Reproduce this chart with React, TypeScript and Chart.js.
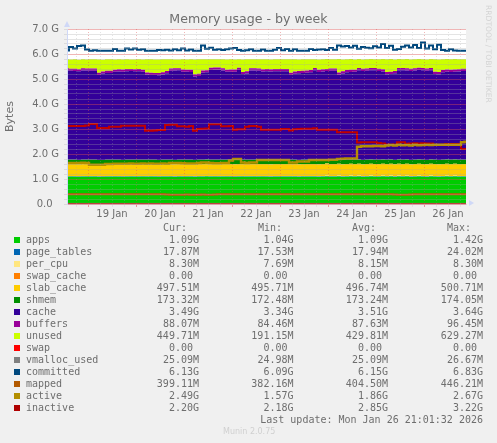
import React, { useEffect, useRef } from "react";
import { Chart, registerables } from "chart.js";

Chart.register(...registerables);

const hours = [
  -10.5, -8.5, -6.5, -4.5, -2.5, -0.5, 1.5, 3.5, 5.5, 7.5,
  9.5, 11.5, 13.5, 15.5, 17.5, 19.5, 21.5, 23.5, 25.5, 27.5,
  29.5, 31.5, 33.5, 35.5, 37.5, 39.5, 41.5, 43.5, 45.5, 47.5,
  49.5, 51.5, 53.5, 55.5, 57.5, 59.5, 61.5, 63.5, 65.5, 67.5,
  69.5, 71.5, 73.5, 75.5, 77.5, 79.5, 81.5, 83.5, 85.5, 87.5,
  89.5, 91.5, 93.5, 95.5, 97.5, 99.5, 101.5, 103.5, 105.5, 107.5,
  109.5, 111.5, 113.5, 115.5, 117.5, 119.5, 121.5, 123.5, 125.5, 127.5,
  129.5, 131.5, 133.5, 135.5, 137.5, 139.5, 141.5, 143.5, 145.5, 147.5,
  149.5, 151.5, 153.5, 155.5, 157.5, 159.5, 161.5, 163.5, 165.5, 167.5,
  169.5, 171.5, 173.5, 175.5, 177.5, 179.5, 181.5, 183.5, 185.5, 187.5, 189,
];

const apps = [
  1.09, 1.09, 1.09, 1.08, 1.09, 1.09, 1.09, 1.09, 1.08, 1.08,
  1.09, 1.09, 1.09, 1.09, 1.08, 1.09, 1.09, 1.09, 1.09, 1.09,
  1.09, 1.09, 1.09, 1.08, 1.09, 1.09, 1.09, 1.08, 1.09, 1.09,
  1.09, 1.09, 1.08, 1.09, 1.09, 1.10, 1.09, 1.09, 1.09, 1.09,
  1.09, 1.09, 1.08, 1.09, 1.09, 1.09, 1.09, 1.09, 1.09, 1.09,
  1.09, 1.08, 1.09, 1.09, 1.09, 1.09, 1.09, 1.09, 1.08, 1.09,
  1.09, 1.09, 1.09, 1.08, 1.09, 1.10, 1.09, 1.09, 1.10, 1.08,
  1.09, 1.10, 1.09, 1.10, 1.08, 1.09, 1.10, 1.09, 1.09, 1.10,
  1.09, 1.10, 1.08, 1.10, 1.09, 1.10, 1.08, 1.09, 1.10, 1.09,
  1.08, 1.10, 1.09, 1.08, 1.09, 1.10, 1.09, 1.10, 1.09, 1.09, 1.09,
];
const pageTables = [
  0.018, 0.017, 0.018, 0.017, 0.018, 0.017, 0.018, 0.017, 0.018, 0.017,
  0.018, 0.018, 0.017, 0.018, 0.017, 0.018, 0.017, 0.018, 0.018, 0.017,
  0.018, 0.017, 0.018, 0.017, 0.018, 0.018, 0.017, 0.018, 0.017, 0.018,
  0.017, 0.018, 0.018, 0.017, 0.018, 0.017, 0.018, 0.017, 0.018, 0.018,
  0.017, 0.018, 0.017, 0.018, 0.017, 0.018, 0.018, 0.017, 0.018, 0.017,
  0.018, 0.017, 0.018, 0.018, 0.017, 0.018, 0.017, 0.018, 0.017, 0.018,
  0.018, 0.017, 0.018, 0.017, 0.018, 0.023, 0.018, 0.018, 0.017, 0.018,
  0.017, 0.018, 0.017, 0.018, 0.018, 0.017, 0.018, 0.017, 0.018, 0.017,
  0.018, 0.018, 0.017, 0.018, 0.017, 0.018, 0.017, 0.018, 0.018, 0.017,
  0.018, 0.017, 0.018, 0.017, 0.018, 0.018, 0.017, 0.018, 0.017, 0.018, 0.017,
];
const perCpu = [
  0.0075, 0.0075, 0.0075, 0.0075, 0.0075, 0.0075, 0.0075, 0.0075, 0.0075, 0.0075,
  0.0075, 0.0075, 0.0075, 0.0075, 0.0075, 0.0075, 0.0075, 0.0075, 0.0075, 0.0075,
  0.0079, 0.0079, 0.0079, 0.0079, 0.0079, 0.0079, 0.0079, 0.0079, 0.0079, 0.0079,
  0.0079, 0.0079, 0.0079, 0.0079, 0.0079, 0.0079, 0.0079, 0.0079, 0.0079, 0.0079,
  0.0079, 0.0079, 0.0079, 0.0079, 0.0079, 0.0079, 0.0079, 0.0079, 0.0079, 0.0079,
  0.0081, 0.0081, 0.0081, 0.0081, 0.0081, 0.0081, 0.0081, 0.0081, 0.0081, 0.0081,
  0.0081, 0.0081, 0.0081, 0.0081, 0.0081, 0.0081, 0.0081, 0.0081, 0.0081, 0.0081,
  0.0081, 0.0081, 0.0081, 0.0081, 0.0081, 0.0081, 0.0081, 0.0081, 0.0081, 0.0081,
  0.0081, 0.0081, 0.0081, 0.0081, 0.0081, 0.0081, 0.0081, 0.0081, 0.0081, 0.0081,
  0.0081, 0.0081, 0.0081, 0.0081, 0.0081, 0.0081, 0.0081, 0.0081, 0.0081, 0.0081, 0.0081,
];
const swapCache = [
  0, 0, 0, 0, 0, 0, 0, 0, 0, 0, 0, 0, 0, 0, 0, 0, 0, 0, 0, 0,
  0, 0, 0, 0, 0, 0, 0, 0, 0, 0, 0, 0, 0, 0, 0, 0, 0, 0, 0, 0,
  0, 0, 0, 0, 0, 0, 0, 0, 0, 0, 0, 0, 0, 0, 0, 0, 0, 0, 0, 0,
  0, 0, 0, 0, 0, 0, 0, 0, 0, 0, 0, 0, 0, 0, 0, 0, 0, 0, 0, 0,
  0, 0, 0, 0, 0, 0, 0, 0, 0, 0, 0, 0, 0, 0, 0, 0, 0, 0, 0, 0, 0,
];
const slabCache = [
  0.485, 0.485, 0.486, 0.485, 0.486, 0.485, 0.485, 0.486, 0.485, 0.485,
  0.486, 0.485, 0.485, 0.486, 0.485, 0.486, 0.485, 0.485, 0.486, 0.485,
  0.485, 0.486, 0.485, 0.486, 0.485, 0.485, 0.486, 0.485, 0.486, 0.485,
  0.485, 0.486, 0.485, 0.486, 0.485, 0.485, 0.486, 0.485, 0.485, 0.486,
  0.485, 0.486, 0.485, 0.485, 0.486, 0.485, 0.486, 0.485, 0.485, 0.486,
  0.485, 0.485, 0.486, 0.485, 0.486, 0.485, 0.485, 0.486, 0.485, 0.486,
  0.485, 0.485, 0.486, 0.485, 0.486, 0.487, 0.485, 0.486, 0.487, 0.485,
  0.486, 0.488, 0.485, 0.487, 0.486, 0.485, 0.488, 0.486, 0.487, 0.485,
  0.488, 0.486, 0.485, 0.487, 0.488, 0.486, 0.487, 0.485, 0.488, 0.486,
  0.487, 0.485, 0.486, 0.488, 0.485, 0.487, 0.486, 0.488, 0.486, 0.486, 0.486,
];
const shmem = [
  0.169, 0.169, 0.170, 0.169, 0.169, 0.169, 0.170, 0.169, 0.169, 0.169,
  0.169, 0.170, 0.169, 0.169, 0.169, 0.170, 0.169, 0.169, 0.169, 0.169,
  0.170, 0.169, 0.169, 0.169, 0.170, 0.169, 0.169, 0.169, 0.169, 0.170,
  0.169, 0.169, 0.169, 0.170, 0.169, 0.169, 0.169, 0.169, 0.170, 0.169,
  0.169, 0.169, 0.170, 0.169, 0.169, 0.169, 0.169, 0.170, 0.169, 0.169,
  0.169, 0.170, 0.169, 0.169, 0.169, 0.169, 0.170, 0.169, 0.169, 0.169,
  0.169, 0.170, 0.169, 0.169, 0.169, 0.170, 0.169, 0.169, 0.169, 0.169,
  0.170, 0.169, 0.169, 0.169, 0.170, 0.169, 0.169, 0.169, 0.170, 0.169,
  0.169, 0.169, 0.170, 0.169, 0.169, 0.169, 0.170, 0.169, 0.169, 0.169,
  0.170, 0.169, 0.169, 0.169, 0.170, 0.169, 0.169, 0.169, 0.169, 0.169, 0.169,
];
const cache = [
  3.57, 3.56, 3.55, 3.55, 3.57, 3.57, 3.56, 3.56, 3.40, 3.46,
  3.47, 3.47, 3.52, 3.53, 3.53, 3.54, 3.55, 3.54, 3.54, 3.52,
  3.40, 3.39, 3.39, 3.39, 3.41, 3.46, 3.56, 3.58, 3.58, 3.52,
  3.52, 3.51, 3.34, 3.35, 3.48, 3.49, 3.59, 3.60, 3.60, 3.57,
  3.52, 3.52, 3.53, 3.59, 3.43, 3.45, 3.57, 3.57, 3.56, 3.53,
  3.54, 3.54, 3.54, 3.54, 3.54, 3.54, 3.39, 3.44, 3.47, 3.47,
  3.48, 3.50, 3.58, 3.52, 3.53, 3.53, 3.56, 3.56, 3.39, 3.46,
  3.50, 3.50, 3.52, 3.57, 3.56, 3.56, 3.57, 3.58, 3.55, 3.52,
  3.42, 3.42, 3.47, 3.57, 3.58, 3.56, 3.56, 3.57, 3.58, 3.58,
  3.57, 3.57, 3.43, 3.43, 3.50, 3.51, 3.51, 3.51, 3.53, 3.55, 3.55,
];
const buffers = [
  0.086, 0.086, 0.087, 0.086, 0.085, 0.086, 0.086, 0.087, 0.086, 0.085,
  0.086, 0.086, 0.085, 0.086, 0.087, 0.086, 0.086, 0.085, 0.086, 0.086,
  0.087, 0.086, 0.085, 0.086, 0.086, 0.087, 0.086, 0.086, 0.085, 0.086,
  0.086, 0.087, 0.086, 0.085, 0.086, 0.086, 0.086, 0.087, 0.086, 0.085,
  0.086, 0.086, 0.087, 0.086, 0.085, 0.086, 0.086, 0.086, 0.087, 0.086,
  0.085, 0.086, 0.086, 0.087, 0.086, 0.086, 0.085, 0.086, 0.087, 0.086,
  0.086, 0.085, 0.086, 0.086, 0.087, 0.086, 0.086, 0.085, 0.086, 0.086,
  0.087, 0.086, 0.085, 0.086, 0.086, 0.087, 0.086, 0.086, 0.085, 0.086,
  0.086, 0.087, 0.086, 0.085, 0.086, 0.086, 0.087, 0.086, 0.086, 0.085,
  0.086, 0.086, 0.087, 0.086, 0.085, 0.086, 0.086, 0.087, 0.086, 0.086, 0.086,
];
const unused = [
  0.36, 0.37, 0.38, 0.38, 0.36, 0.36, 0.37, 0.37, 0.53, 0.47,
  0.46, 0.46, 0.41, 0.40, 0.40, 0.39, 0.38, 0.39, 0.39, 0.41,
  0.53, 0.54, 0.54, 0.54, 0.52, 0.47, 0.37, 0.35, 0.35, 0.41,
  0.41, 0.42, 0.59, 0.58, 0.45, 0.44, 0.34, 0.33, 0.33, 0.36,
  0.41, 0.41, 0.40, 0.34, 0.50, 0.48, 0.36, 0.36, 0.37, 0.40,
  0.39, 0.39, 0.39, 0.39, 0.39, 0.39, 0.54, 0.49, 0.46, 0.46,
  0.45, 0.43, 0.35, 0.41, 0.40, 0.40, 0.37, 0.37, 0.54, 0.47,
  0.43, 0.43, 0.41, 0.36, 0.37, 0.37, 0.36, 0.35, 0.38, 0.41,
  0.51, 0.51, 0.46, 0.36, 0.35, 0.37, 0.37, 0.36, 0.35, 0.35,
  0.36, 0.36, 0.50, 0.50, 0.43, 0.42, 0.42, 0.42, 0.40, 0.38, 0.38,
];
const swap = swapCache;
const vmallocUsed = [
  0.0245, 0.0245, 0.0245, 0.0245, 0.0245, 0.0245, 0.0245, 0.0245, 0.0245, 0.0245,
  0.0245, 0.0245, 0.0245, 0.0245, 0.0245, 0.0245, 0.0245, 0.0245, 0.0245, 0.0245,
  0.0245, 0.0245, 0.0245, 0.0245, 0.0245, 0.0245, 0.0245, 0.0245, 0.0245, 0.0245,
  0.0245, 0.0245, 0.0245, 0.0245, 0.0245, 0.0245, 0.0245, 0.0245, 0.0245, 0.0245,
  0.0245, 0.0245, 0.0245, 0.0245, 0.0245, 0.0245, 0.0245, 0.0245, 0.0245, 0.0245,
  0.0245, 0.0245, 0.0245, 0.0245, 0.0245, 0.0245, 0.0245, 0.0245, 0.0245, 0.0245,
  0.0245, 0.0245, 0.0245, 0.0245, 0.0245, 0.0245, 0.0245, 0.0245, 0.0245, 0.0245,
  0.0245, 0.0245, 0.0245, 0.0245, 0.0245, 0.0245, 0.0245, 0.0245, 0.0245, 0.0245,
  0.0245, 0.0245, 0.0245, 0.0245, 0.0245, 0.0245, 0.0245, 0.0245, 0.0245, 0.0245,
  0.0245, 0.0245, 0.0245, 0.0245, 0.0245, 0.0245, 0.0245, 0.0245, 0.0245, 0.0245, 0.0245,
];
const committed = [
  6.14, 6.28, 6.22, 6.32, 6.34, 6.18, 6.13, 6.15, 6.13, 6.13,
  6.13, 6.13, 6.20, 6.13, 6.13, 6.22, 6.18, 6.22, 6.17, 6.19,
  6.13, 6.13, 6.13, 6.16, 6.15, 6.17, 6.14, 6.19, 6.15, 6.22,
  6.14, 6.18, 6.13, 6.13, 6.34, 6.21, 6.25, 6.17, 6.19, 6.16,
  6.19, 6.22, 6.24, 6.16, 6.13, 6.15, 6.19, 6.13, 6.13, 6.18,
  6.13, 6.13, 6.17, 6.24, 6.15, 6.20, 6.13, 6.19, 6.13, 6.13,
  6.13, 6.20, 6.16, 6.18, 6.19, 6.16, 6.24, 6.17, 6.34, 6.30,
  6.32, 6.26, 6.33, 6.21, 6.28, 6.25, 6.23, 6.31, 6.26, 6.40,
  6.24, 6.33, 6.17, 6.20, 6.29, 6.34, 6.26, 6.36, 6.24, 6.46,
  6.22, 6.34, 6.19, 6.37, 6.16, 6.13, 6.19, 6.14, 6.13, 6.13, 6.13,
];
const mapped = [
  0.39, 0.39, 0.39, 0.39, 0.39, 0.39, 0.39, 0.39, 0.39, 0.39,
  0.39, 0.39, 0.39, 0.39, 0.39, 0.39, 0.39, 0.39, 0.39, 0.39,
  0.39, 0.39, 0.39, 0.39, 0.39, 0.38, 0.37, 0.37, 0.37, 0.37,
  0.38, 0.37, 0.37, 0.37, 0.38, 0.37, 0.37, 0.38, 0.39, 0.39,
  0.39, 0.39, 0.39, 0.39, 0.39, 0.39, 0.39, 0.39, 0.39, 0.39,
  0.39, 0.39, 0.39, 0.39, 0.39, 0.39, 0.39, 0.39, 0.39, 0.39,
  0.39, 0.39, 0.39, 0.39, 0.39, 0.39, 0.39, 0.39, 0.39, 0.39,
  0.39, 0.39, 0.39, 0.39, 0.39, 0.39, 0.39, 0.39, 0.39, 0.39,
  0.39, 0.39, 0.38, 0.37, 0.37, 0.37, 0.38, 0.39, 0.39, 0.39,
  0.39, 0.39, 0.39, 0.39, 0.39, 0.39, 0.39, 0.39, 0.39, 0.39, 0.39,
];
const active = [
  1.64, 1.64, 1.64, 1.64, 1.65, 1.64, 1.57, 1.57, 1.57, 1.57,
  1.60, 1.60, 1.61, 1.61, 1.61, 1.61, 1.62, 1.61, 1.61, 1.62,
  1.61, 1.62, 1.61, 1.61, 1.62, 1.61, 1.64, 1.64, 1.64, 1.63,
  1.62, 1.62, 1.62, 1.64, 1.66, 1.66, 1.64, 1.63, 1.63, 1.64,
  1.64, 1.74, 1.80, 1.80, 1.66, 1.64, 1.66, 1.66, 1.76, 1.76,
  1.76, 1.76, 1.76, 1.76, 1.76, 1.76, 1.66, 1.66, 1.70, 1.70,
  1.70, 1.76, 1.76, 1.76, 1.76, 1.76, 1.77, 1.77, 1.80, 1.81,
  1.82, 1.82, 1.82, 2.29, 2.31, 2.31, 2.31, 2.32, 2.32, 2.31,
  2.34, 2.36, 2.34, 2.37, 2.35, 2.36, 2.34, 2.37, 2.35, 2.36,
  2.37, 2.36, 2.37, 2.37, 2.37, 2.37, 2.37, 2.37, 2.37, 2.47, 2.49,
];
const inactive = [
  3.12, 3.12, 3.12, 3.12, 3.12, 3.14, 3.20, 3.20, 3.04, 3.04,
  3.04, 3.09, 3.09, 3.09, 3.13, 3.13, 3.13, 3.13, 3.13, 3.13,
  2.93, 2.93, 2.94, 2.96, 2.96, 3.16, 3.17, 3.17, 3.11, 3.11,
  3.09, 3.12, 2.93, 3.00, 3.01, 3.02, 3.19, 3.19, 3.19, 3.11,
  3.11, 3.12, 2.97, 2.99, 2.99, 3.09, 3.12, 3.12, 3.09, 2.97,
  2.97, 2.97, 2.97, 2.97, 3.00, 3.00, 2.94, 2.99, 3.00, 3.01,
  3.01, 3.01, 3.03, 2.97, 2.97, 2.97, 2.97, 2.97, 2.87, 2.87,
  2.87, 2.87, 2.87, 2.46, 2.47, 2.47, 2.47, 2.47, 2.44, 2.42,
  2.38, 2.37, 2.38, 2.47, 2.47, 2.41, 2.42, 2.43, 2.42, 2.43,
  2.42, 2.42, 2.37, 2.36, 2.37, 2.40, 2.40, 2.40, 2.40, 2.20, 2.20,
];

const xGridHours = [
  -6, 0, 6, 12, 18, 24, 30, 36, 42, 48, 54, 60, 66, 72, 78, 84, 90, 96, 102, 108, 114,
  120, 126, 132, 138, 144, 150, 156, 162, 168, 174, 180, 186,
];
const dayLabels = ["19 Jan", "20 Jan", "21 Jan", "22 Jan", "23 Jan", "24 Jan", "25 Jan", "26 Jan"];
const yLabels = ["0.0  ", "1.0 G", "2.0 G", "3.0 G", "4.0 G", "5.0 G", "6.0 G", "7.0 G"];

const legendNames = [
  "apps", "page_tables", "per_cpu", "swap_cache", "slab_cache", "shmem", "cache", "buffers",
  "unused", "swap", "vmalloc_used", "committed", "mapped", "active", "inactive",
];
const legendColors = [
  "#00CC00", "#0066B3", "#FFE680", "#FF8000", "#FFCC00", "#008F00", "#330099", "#990099",
  "#CCFF00", "#FF0000", "#808080", "#00487D", "#B35A00", "#B38F00", "#AF0000",
];
const lineColors = { mapped: "#C8500C", active: "#B38F00", inactive: "#C00000" };
const curValues = ["1.09G", "17.87M", "8.30M", "0.00 ", "497.51M", "173.32M", "3.49G", "88.07M", "449.71M", "0.00 ", "25.09M", "6.13G", "399.11M", "2.49G", "2.20G"];
const minValues = ["1.04G", "17.53M", "7.69M", "0.00 ", "495.71M", "172.48M", "3.34G", "84.46M", "191.15M", "0.00 ", "24.98M", "6.09G", "382.16M", "1.57G", "2.18G"];
const avgValues = ["1.09G", "17.94M", "8.15M", "0.00 ", "496.74M", "173.24M", "3.51G", "87.63M", "429.81M", "0.00 ", "25.09M", "6.15G", "404.50M", "1.86G", "2.85G"];
const maxValues = ["1.42G", "24.02M", "8.30M", "0.00 ", "500.71M", "174.05M", "3.64G", "96.45M", "629.27M", "0.00 ", "26.67M", "6.83G", "446.21M", "2.67G", "3.22G"];

const toPoints = (ys: number[]) => ys.map((y, i) => ({ x: hours[i], y }));

const MONO = '"DejaVu Sans Mono", monospace';
const SANS = '"DejaVu Sans", sans-serif';
const TEXT = "#6e6e6e";
const GRID_MINOR = "rgba(165,165,165,0.3)";
const GRID_MAJOR = "rgba(220,80,80,0.42)";

const area = (label: string, ys: number[], color: string, first = false) => ({
  type: "line" as const,
  label,
  data: toPoints(ys),
  stack: "mem",
  fill: first ? "origin" : "-1",
  backgroundColor: color,
  borderColor: color,
  borderWidth: 0,
  pointRadius: 0,
  stepped: "middle",
  order: 10,
});

const line = (label: string, ys: number[], color: string, width = 2) => ({
  type: "line" as const,
  label,
  data: toPoints(ys),
  stack: label,
  fill: false,
  borderColor: color,
  backgroundColor: color,
  borderWidth: width,
  pointRadius: 0,
  stepped: "middle",
  order: 1,
});

const chromePlugin = {
  id: "chrome",
  beforeDraw(chart: any) {
    const { ctx, chartArea: a } = chart;
    ctx.save();
    ctx.fillStyle = "#ffffff";
    ctx.fillRect(a.left, a.top, a.right - a.left, a.bottom - a.top);
    ctx.restore();
  },
  afterDraw(chart: any) {
    const { ctx, chartArea: a } = chart;
    ctx.save();
    ctx.fillStyle = "#cfd8f7";
    ctx.beginPath();
    ctx.moveTo(a.left - 3, a.top - 2);
    ctx.lineTo(a.left, a.top - 8);
    ctx.lineTo(a.left + 3, a.top - 2);
    ctx.closePath();
    ctx.fill();
    ctx.beginPath();
    ctx.moveTo(a.right + 3, a.bottom - 4);
    ctx.lineTo(a.right + 8, a.bottom - 1);
    ctx.lineTo(a.right + 3, a.bottom + 2);
    ctx.closePath();
    ctx.fill();
    ctx.restore();
  },
};

const abs = (left: number, top: number): React.CSSProperties => ({
  position: "absolute",
  left,
  top,
  whiteSpace: "pre",
});

const valueCol = (right: number, cy: number, text: string, key: string) => (
  <div
    key={key}
    style={{
      position: "absolute",
      right: 497 - right,
      top: cy - 6,
      height: 12,
      lineHeight: "12px",
      whiteSpace: "pre",
    }}
  >
    {text}
  </div>
);

export default function App() {
  const ref = useRef<HTMLCanvasElement | null>(null);

  useEffect(() => {
    const chart = new Chart(ref.current as HTMLCanvasElement, {
      type: "line",
      data: {
        datasets: [
          area("apps", apps, legendColors[0], true),
          area("page_tables", pageTables, legendColors[1]),
          area("per_cpu", perCpu, legendColors[2]),
          area("swap_cache", swapCache, legendColors[3]),
          area("slab_cache", slabCache, legendColors[4]),
          area("shmem", shmem, legendColors[5]),
          area("cache", cache, legendColors[6]),
          area("buffers", buffers, legendColors[7]),
          area("unused", unused, legendColors[8]),
          line("swap", swap, legendColors[9], 1),
          line("vmalloc_used", vmallocUsed, legendColors[10], 1),
          line("committed", committed, legendColors[11], 2),
          line("mapped", mapped, lineColors.mapped),
          line("active", active, lineColors.active, 2.4),
          line("inactive", inactive, lineColors.inactive),
        ] as any,
      },
      options: {
        responsive: false,
        animation: false,
        devicePixelRatio: 1,
        layout: { padding: { left: 0, right: 0, top: 0, bottom: 0 } },
        plugins: {
          legend: { display: false },
          tooltip: { enabled: false },
          title: {
            display: true,
            text: "Memory usage - by week",
            color: TEXT,
            font: { family: SANS, size: 12.6, weight: "normal", lineHeight: 1.2 },
            padding: { top: 12, bottom: 1.88 },
          },
        },
        scales: {
          x: {
            type: "linear",
            min: -10.5,
            max: 189,
            afterBuildTicks(scale: any) {
              scale.ticks = xGridHours.map((value) => ({ value }));
            },
            afterFit(scale: any) {
              scale.height = 239;
            },
            grid: {
              z: 1,
              color: (c: any) => (c.tick && c.tick.value % 24 === 0 ? GRID_MAJOR : GRID_MINOR),
              tickColor: (c: any) => (c.tick && c.tick.value % 24 === 0 ? "rgba(225,110,110,0.7)" : "rgba(205,205,205,0.4)"),
              tickLength: 3,
              lineWidth: 1,
            },
            border: { color: "#d8d8e4", dash: [1, 2], width: 1, z: 1 },
            ticks: {
              autoSkip: false,
              maxRotation: 0,
              minRotation: 0,
              padding: 1,
              color: TEXT,
              font: { family: SANS, size: 10 },
              callback: (v: any) => (Number(v) % 24 === 12 ? dayLabels[(Number(v) - 12) / 24] : ""),
            },
          },
          y: {
            type: "linear",
            stacked: true,
            min: 0,
            max: 7,
            afterFit(scale: any) {
              scale.width = 67;
            },
            title: {
              display: true,
              text: "Bytes",
              color: TEXT,
              font: { family: SANS, size: 11 },
              padding: { top: 4, bottom: 0 },
            },
            grid: {
              z: 1,
              color: (c: any) =>
                c.tick && Math.abs(c.tick.value - Math.round(c.tick.value)) < 1e-6 ? GRID_MAJOR : GRID_MINOR,
              tickColor: "rgba(205,205,205,0.6)",
              tickLength: 3,
              lineWidth: 1,
            },
            border: { color: "#cfd8f7", width: 1, z: 1 },
            ticks: {
              stepSize: 0.2,
              autoSkip: false,
              padding: 5,
              color: TEXT,
              font: { family: SANS, size: 10 },
              callback: (v: any) =>
                Math.abs(Number(v) - Math.round(Number(v))) < 1e-6 ? yLabels[Math.round(Number(v))] : "",
            },
          },
          gutter: {
            type: "linear",
            position: "right",
            display: true,
            min: 0,
            max: 7,
            afterFit(scale: any) {
              scale.width = 31;
            },
            grid: { display: false, drawTicks: false },
            border: { display: false },
            ticks: { display: false },
          },
        },
      } as any,
      plugins: [chromePlugin],
    } as any);
    return () => chart.destroy();
  }, []);

  return (
    <div
      style={{
        position: "absolute",
        left: 0,
        top: 0,
        width: 497,
        height: 443,
        background: "#f0f0f0",
        overflow: "hidden",
        fontFamily: MONO,
        fontSize: 10,
        color: TEXT,
      }}
    >
      <canvas ref={ref} width={497} height={443} style={{ position: "absolute", left: 0, top: 0 }} />
      <div
        style={{
          position: "absolute",
          left: 483,
          top: 5,
          writingMode: "vertical-rl",
          fontFamily: SANS,
          fontSize: 7.6,
          lineHeight: "10px",
          color: "#d4d4d4",
          whiteSpace: "pre",
        }}
      >
        RRDTOOL / TOBI OETIKER
      </div>
      <div style={{ ...abs(163, 222), lineHeight: "12px" }}>Cur:</div>
      <div style={{ ...abs(258, 222), lineHeight: "12px" }}>Min:</div>
      <div style={{ ...abs(352, 222), lineHeight: "12px" }}>Avg:</div>
      <div style={{ ...abs(447, 222), lineHeight: "12px" }}>Max:</div>
      {legendNames.map((name, i) => {
        const cy = 240 + 12 * i;
        return (
          <React.Fragment key={name}>
            <div
              style={{
                position: "absolute",
                left: 14,
                top: cy - 3,
                width: 6,
                height: 6,
                background: legendColors[i],
              }}
            />
            <div style={{ ...abs(26, cy - 6), lineHeight: "12px" }}>{name}</div>
            {valueCol(199, cy, curValues[i], name + "c")}
            {valueCol(293.5, cy, minValues[i], name + "n")}
            {valueCol(388, cy, avgValues[i], name + "a")}
            {valueCol(483, cy, maxValues[i], name + "x")}
          </React.Fragment>
        );
      })}
      {valueCol(483, 420, "Last update: Mon Jan 26 21:01:32 2026", "update")}
      <div
        style={{
          position: "absolute",
          left: 223,
          top: 427,
          lineHeight: "10px",
          fontFamily: SANS,
          fontSize: 8,
          color: "#d0d0d0",
          whiteSpace: "pre",
        }}
      >
        Munin 2.0.75
      </div>
    </div>
  );
}
